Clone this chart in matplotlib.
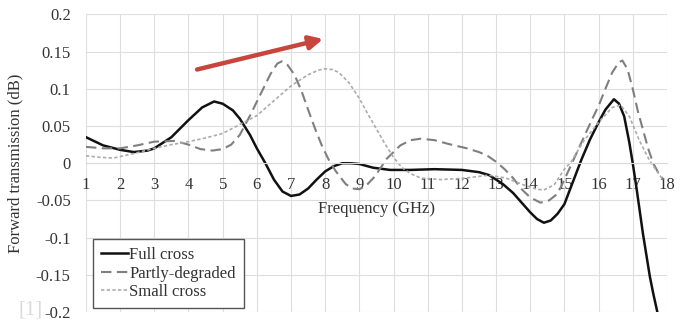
import matplotlib
matplotlib.use("Agg")
import matplotlib.pyplot as plt
from matplotlib.ticker import MultipleLocator, FuncFormatter

# =========================
# 기본 설정
# =========================
plt.rcParams['font.family'] = ['Liberation Serif', 'DejaVu Serif']
plt.rcParams['axes.unicode_minus'] = False

# =========================
# 데이터 (주파수 GHz, 전달 특성 dB)
# =========================
full_freq = [1.0, 1.5, 2.0, 2.4, 2.8, 3.0, 3.5, 4.0, 4.4, 4.75, 5.0, 5.3, 5.5, 5.8,
             6.0, 6.25, 6.5, 6.75, 7.0, 7.25, 7.5, 7.75, 8.0, 8.25, 8.5, 8.75, 9.0,
             9.4, 9.9, 10.5, 11.2, 12.0, 12.5, 12.8, 13.2, 13.5, 13.75, 14.0, 14.2,
             14.4, 14.6, 14.8, 15.0, 15.25, 15.5, 15.75, 16.0, 16.2, 16.45, 16.6,
             16.75, 16.9, 17.0, 17.1, 17.3, 17.5, 17.6, 17.72]
full_db = [0.035, 0.024, 0.018, 0.015, 0.017, 0.02, 0.035, 0.058, 0.075, 0.083, 0.08,
           0.071, 0.06, 0.038, 0.02, 0.0, -0.022, -0.038, -0.044, -0.042, -0.034,
           -0.022, -0.011, -0.004, 0.0, 0.0, -0.001, -0.006, -0.009, -0.009, -0.008,
           -0.009, -0.012, -0.016, -0.028, -0.04, -0.053, -0.066, -0.075, -0.08,
           -0.077, -0.068, -0.055, -0.025, 0.005, 0.032, 0.055, 0.072, 0.086, 0.08,
           0.063, 0.028, 0.0, -0.03, -0.095, -0.152, -0.175, -0.2]

partly_freq = [1.0, 1.5, 2.0, 2.5, 3.0, 3.6, 4.0, 4.35, 4.7, 5.0, 5.25, 5.5, 5.8, 6.1,
               6.4, 6.6, 6.73, 6.9, 7.1, 7.3, 7.5, 7.7, 7.9, 8.1, 8.3, 8.6, 8.8, 9.0,
               9.2, 9.45, 9.8, 10.2, 10.5, 10.8, 11.2, 11.6, 12.15, 12.5, 12.75, 13.0,
               13.25, 13.5, 13.75, 14.0, 14.3, 14.55, 14.8, 15.0, 15.2, 15.5, 15.8,
               16.0, 16.2, 16.4, 16.6, 16.7, 16.85, 17.0, 17.15, 17.3, 17.45, 17.6,
               17.75, 17.9]
partly_db = [0.022, 0.02, 0.02, 0.024, 0.029, 0.03, 0.025, 0.019, 0.017, 0.019, 0.025,
             0.038, 0.064, 0.092, 0.12, 0.134, 0.137, 0.132, 0.119, 0.098, 0.072,
             0.047, 0.024, 0.005, -0.01, -0.028, -0.034, -0.035, -0.03, -0.018, 0.006,
             0.024, 0.031, 0.033, 0.031, 0.026, 0.02, 0.015, 0.01, 0.002, -0.008,
             -0.02, -0.035, -0.046, -0.053, -0.05, -0.041, -0.022, -0.002, 0.028,
             0.058, 0.077, 0.1, 0.122, 0.136, 0.138, 0.126, 0.1, 0.07, 0.045, 0.02,
             0.0, -0.013, -0.022]

small_freq = [1.0, 1.4, 1.8, 2.4, 3.0, 3.5, 4.0, 4.5, 5.0, 5.5, 6.0, 6.5, 7.0, 7.5, 7.8,
              8.0, 8.2, 8.4, 8.7, 9.0, 9.25, 9.5, 9.75, 10.0, 10.25, 10.5, 10.8, 11.4,
              12.1, 12.8, 13.3, 13.8, 14.2, 14.4, 14.7, 15.0, 15.2, 15.55, 16.0, 16.4,
              16.65, 16.9, 17.2, 17.5, 17.85]
small_db = [0.01, 0.008, 0.007, 0.013, 0.02, 0.025, 0.029, 0.034, 0.04, 0.052, 0.064,
            0.084, 0.104, 0.119, 0.125, 0.127, 0.126, 0.122, 0.108, 0.087, 0.066,
            0.046, 0.026, 0.008, -0.006, -0.014, -0.02, -0.022, -0.02, -0.016, -0.02,
            -0.029, -0.035, -0.036, -0.029, -0.008, 0.002, 0.029, 0.055, 0.075, 0.078,
            0.063, 0.03, 0.003, -0.02]

labels = ["Full cross", "Partly-degraded", "Small cross"]

# 화살표 (시작/끝 좌표)
arrow_start = (4.25, 0.126)
arrow_end = (7.94, 0.167)

# =========================
# 그래프
# =========================
fig = plt.figure(figsize=(6.84, 3.21), dpi=100)
ax = fig.add_axes([0.1257, 0.028, 0.8493, 0.927])

ax.plot(full_freq, full_db, color="#111111", lw=1.8, label=labels[0])
ax.plot(partly_freq, partly_db, color="#7f7f7f", lw=1.5, dashes=(5, 2.6),
        label=labels[1])
ax.plot(small_freq, small_db, color="#ababab", lw=1.2, dashes=(2, 1.4),
        label=labels[2])

ax.annotate("", xy=arrow_end, xytext=arrow_start,
            arrowprops=dict(arrowstyle="-|>", lw=3.2, color="#c8453d",
                            mutation_scale=20, shrinkA=0, shrinkB=0))

ax.set_xlim(1, 18)
ax.set_ylim(-0.2, 0.2)
ax.xaxis.set_major_locator(MultipleLocator(1))
ax.yaxis.set_major_locator(MultipleLocator(0.05))
ax.yaxis.set_major_formatter(FuncFormatter(lambda v, p: f"{round(v, 2):g}"))

for s in ["top", "right", "left"]:
    ax.spines[s].set_visible(False)
ax.spines["bottom"].set_position(("data", 0))
ax.spines["bottom"].set_color("#d9d9d9")
ax.spines["bottom"].set_linewidth(0.8)

ax.tick_params(axis="x", length=0, pad=10, labelsize=12, colors="#333333")
ax.tick_params(axis="y", length=0, pad=11, labelsize=12, colors="#333333")
ax.grid(True, color="#dedede", lw=0.8)
ax.set_axisbelow(True)

ax.set_xlabel("Frequency (GHz)", fontsize=12, color="#333333", labelpad=6)
ax.set_ylabel("Forward transmission (dB)", fontsize=12, color="#333333")
ax.yaxis.set_label_coords(-0.108, 0.5)

leg = ax.legend(loc="lower left", bbox_to_anchor=(0.0115, 0.012), borderaxespad=0,
                fontsize=12, handlelength=1.6, handletextpad=0.1, labelspacing=0.15,
                borderpad=0.5, fancybox=False, framealpha=1)
leg.get_frame().set_edgecolor("#555555")
leg.get_frame().set_linewidth(1.0)
for t in leg.get_texts():
    t.set_color("#333333")

fig.text(0.044, 0.034, "[1]", fontsize=15, color="#dadada", ha="center", va="center")

fig.savefig("out.png", dpi=100)
